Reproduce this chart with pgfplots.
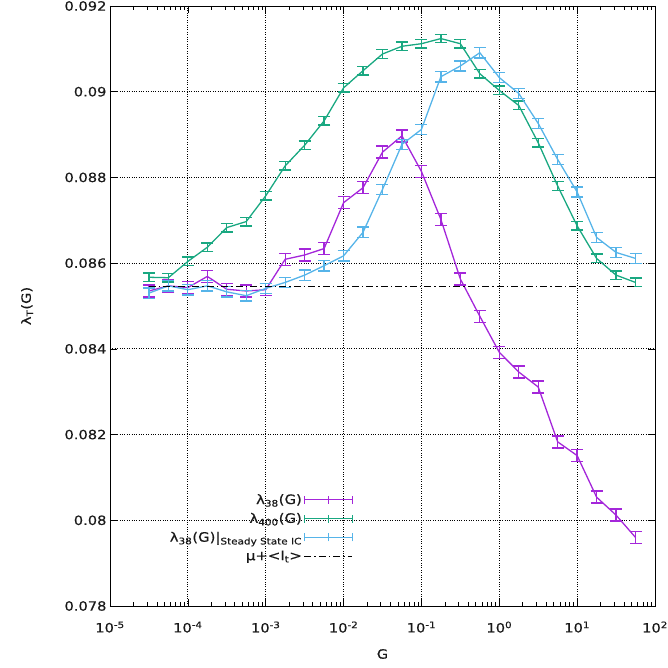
\documentclass[border=0pt]{standalone}
\usepackage{fontspec}
\setmainfont[FakeStretch=1.15,FakeBold=0.35]{DejaVu Sans}
\usepackage{pgfplots}
\pgfplotsset{compat=1.18}
\usepackage{pgfplotstable}
\definecolor{gpurple}{HTML}{9400D3}
\definecolor{ggreen}{HTML}{009E73}
\definecolor{gblue}{HTML}{56B4E9}

\pgfplotstableread{
x y e
3.1623e-5 0.08535 0.00014
5.6234e-5 0.08547 0.00014
1.0e-4 0.08543 0.00014
1.7783e-4 0.08569 0.00014
3.1623e-4 0.08539 0.00014
5.6234e-4 0.08535 0.00014
1.0e-3 0.08538 0.00014
1.7783e-3 0.08609 0.00014
3.1623e-3 0.08619 0.00014
5.6234e-3 0.08634 0.00014
1.0e-2 0.08741 0.00014
1.7783e-2 0.08776 0.00014
3.1623e-2 0.08859 0.00014
5.6234e-2 0.08897 0.00014
1.0e-1 0.08814 0.00014
1.7783e-1 0.08702 0.00014
3.1623e-1 0.08563 0.00014
5.6234e-1 0.08476 0.00014
1.0 0.08392 0.00014
1.7783 0.08346 0.00014
3.1623 0.08311 0.00014
5.6234 0.08183 0.00014
10.0 0.08151 0.00014
17.783 0.08054 0.00014
31.623 0.08012 0.00014
56.234 0.07960 0.00014
}\purpletab

\pgfplotstableread{
x y e
3.1623e-5 0.08567 0.0001
5.6234e-5 0.08566 0.0001
1.0e-4 0.08604 0.0001
1.7783e-4 0.08637 0.0001
3.1623e-4 0.08683 0.0001
5.6234e-4 0.08697 0.0001
1.0e-3 0.08757 0.0001
1.7783e-3 0.08827 0.0001
3.1623e-3 0.08875 0.0001
5.6234e-3 0.08932 0.0001
1.0e-2 0.09009 0.0001
1.7783e-2 0.09049 0.0001
3.1623e-2 0.09088 0.0001
5.6234e-2 0.09106 0.0001
1.0e-1 0.09112 0.0001
1.7783e-1 0.09124 0.0001
3.1623e-1 0.09112 0.0001
5.6234e-1 0.09042 0.0001
1.0 0.09003 0.0001
1.7783 0.08968 0.0001
3.1623 0.08881 0.0001
5.6234 0.08780 0.0001
10.0 0.08687 0.0001
17.783 0.08611 0.0001
31.623 0.08572 0.0001
56.234 0.08555 0.0001
}\greentab

\pgfplotstableread{
x y e
3.1623e-5 0.08530 0.00012
5.6234e-5 0.08547 0.00012
1.0e-4 0.08538 0.00012
1.7783e-4 0.08547 0.00012
3.1623e-4 0.08533 0.00012
5.6234e-4 0.08524 0.00012
1.0e-3 0.08541 0.00012
1.7783e-3 0.08555 0.00012
3.1623e-3 0.08572 0.00012
5.6234e-3 0.08594 0.00012
1.0e-2 0.08617 0.00012
1.7783e-2 0.08672 0.00012
3.1623e-2 0.08772 0.00012
5.6234e-2 0.08877 0.00012
1.0e-1 0.08912 0.00012
1.7783e-1 0.09035 0.00012
3.1623e-1 0.09060 0.00012
5.6234e-1 0.09091 0.00012
1.0 0.09033 0.00012
1.7783 0.08996 0.00012
3.1623 0.08926 0.00012
5.6234 0.08842 0.00012
10.0 0.08766 0.00012
17.783 0.08660 0.00012
31.623 0.08625 0.00012
56.234 0.08611 0.00012
}\bluetab

\pgfplotsset{
  errleg/.style={legend image code/.code={
    \draw[##1] (10bp,0bp) -- (58bp,0bp);
    \draw[##1] (10bp,-4bp) -- (10bp,4bp);
    \draw[##1] (58bp,-4bp) -- (58bp,4bp);
    \draw[##1] (34bp,-4bp) -- (34bp,4bp);
  }},
  dashleg/.style={legend image code/.code={
    \draw[##1] (10bp,0bp) -- (58bp,0bp);
  }},
}

\begin{document}
\begin{tikzpicture}
\begin{semilogxaxis}[
  scale only axis,
  width=545bp, height=600bp,
  xmin=1e-5, xmax=1e2,
  ymin=0.078, ymax=0.092,
  xtick={1e-5,1e-4,1e-3,1e-2,1e-1,1,10,100},
  xticklabels={10\textsuperscript{-5},10\textsuperscript{-4},10\textsuperscript{-3},10\textsuperscript{-2},10\textsuperscript{-1},10\textsuperscript{0},10\textsuperscript{1},10\textsuperscript{2}},
  ytick={0.078,0.08,0.082,0.084,0.086,0.088,0.09,0.092},
  yticklabels={0.078,0.08,0.082,0.084,0.086,0.088,0.09,0.092},
  scaled y ticks=false,
  grid=major,
  major grid style={black, dotted, line width=0.8pt},
  axis line style={black, line width=0.9pt},
  tick style={black, line width=0.7pt},
  major tick length=7bp,
  minor tick length=4bp,
  tick label style={font=\fontsize{12.8}{14}\selectfont, text=black!90},
  xticklabel style={yshift=-12bp},
  yticklabel style={xshift=0bp},
  label style={font=\fontsize{12.8}{14}\selectfont, text=black!90},
  xlabel={G},
  ylabel={λ\textsubscript{T}(G)},
  xlabel style={at={(axis description cs:0.5,0)}, anchor=center, yshift=-48bp},
  ylabel style={at={(axis description cs:-0.152,0.5)}, anchor=center},
  legend style={draw=none, fill=none, at={(0.452,0.067)}, anchor=south east,
    font=\fontsize{13}{14}\selectfont, row sep=3.5bp, text=black!90},
  legend cell align=right,
  legend plot pos=right,
  error bars/y dir=both,
  error bars/y explicit,
]
\addplot+[gpurple!85, line width=1.3pt, no markers, errleg,
  error bars/error bar style={gpurple!85, line width=1.3pt},
  error bars/error mark options={gpurple!85, rotate=90, mark size=6bp, line width=1.3pt}]
  table[x=x, y=y, y error=e] {\purpletab};
\addlegendentry{λ\textsubscript{38}(G)}
\addplot+[ggreen!90, line width=1.3pt, no markers, errleg,
  error bars/error bar style={ggreen!90, line width=1.3pt},
  error bars/error mark options={ggreen!90, rotate=90, mark size=6bp, line width=1.3pt}]
  table[x=x, y=y, y error=e] {\greentab};
\addlegendentry{λ\textsubscript{400}(G)}
\addplot+[gblue, line width=1.3pt, no markers, errleg,
  error bars/error bar style={gblue, line width=1.3pt},
  error bars/error mark options={gblue, rotate=90, mark size=6bp, line width=1.3pt}]
  table[x=x, y=y, y error=e] {\bluetab};
\addlegendentry{λ\textsubscript{38}(G)|\textsubscript{Steady State IC}}
\addplot[black, line width=0.9pt, dash pattern=on 7bp off 3bp on 1.5bp off 3bp, no markers, dashleg]
  coordinates {(3.1623e-5,0.08546) (56.234,0.08546)};
\addlegendentry{μ+<I\textsubscript{t}>}
\end{semilogxaxis}
\pgfresetboundingbox
\path ([shift={(-110bp,-62bp)}]current axis.south west) rectangle ([shift={(13bp,6bp)}]current axis.north east);
\end{tikzpicture}
\end{document}
